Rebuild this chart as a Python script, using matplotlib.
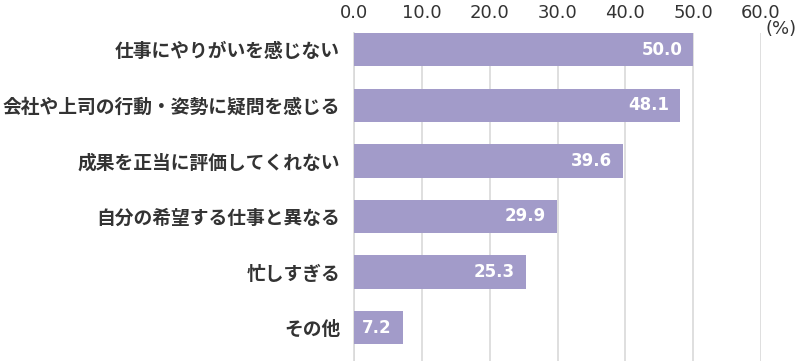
import matplotlib
matplotlib.use('Agg')
import matplotlib.pyplot as plt

plt.rcParams['font.family'] = ['Noto Sans CJK JP', 'DejaVu Sans']

categories = ['仕事にやりがいを感じない', '会社や上司の行動・姿勢に疑問を感じる', '成果を正当に評価してくれない',
              '自分の希望する仕事と異なる', '忙しすぎる', 'その他']
values = [50.0, 48.1, 39.6, 29.9, 25.3, 7.2]
ticks = [0, 10, 20, 30, 40, 50, 60]

bar_color = '#a29bc9'
grid_color = '#d9d9d9'
text_color = '#333333'

fig = plt.figure(figsize=(8, 3.61), dpi=100)
ax = fig.add_axes([0.4425, 0.0, 0.5088, 0.9086])

y = list(range(len(categories)))
ax.barh(y, values, height=0.6, color=bar_color, zorder=3)

for yi, v in zip(y, values):
    ax.text(v - 1.6, yi, f'{v:.1f}', ha='right', va='center', color='white',
            fontsize=12, fontweight='bold', family='DejaVu Sans', zorder=4)

ax.set_xlim(0, 60)
ax.set_ylim(5.6, -0.30)
ax.set_xticks(ticks)
ax.set_xticklabels([f'{t:.1f}' for t in ticks], fontsize=13, color=text_color, family='DejaVu Sans')
ax.xaxis.tick_top()
ax.tick_params(axis='x', length=0, pad=8)
ax.set_yticks(y)
ax.set_yticklabels(categories, fontsize=13.5, fontweight='bold', color=text_color)
ax.tick_params(axis='y', length=0, pad=10)
ax.grid(axis='x', color=grid_color, linewidth=1.2, zorder=0)
for s in ['top', 'right', 'bottom']:
    ax.spines[s].set_visible(False)
ax.spines['left'].set_color(grid_color)
ax.spines['left'].set_linewidth(1.2)

fig.text(0.976, 0.92, '(%)', ha='center', va='center', fontsize=13, color=text_color, family='DejaVu Sans')

fig.savefig('out.png', dpi=100)
